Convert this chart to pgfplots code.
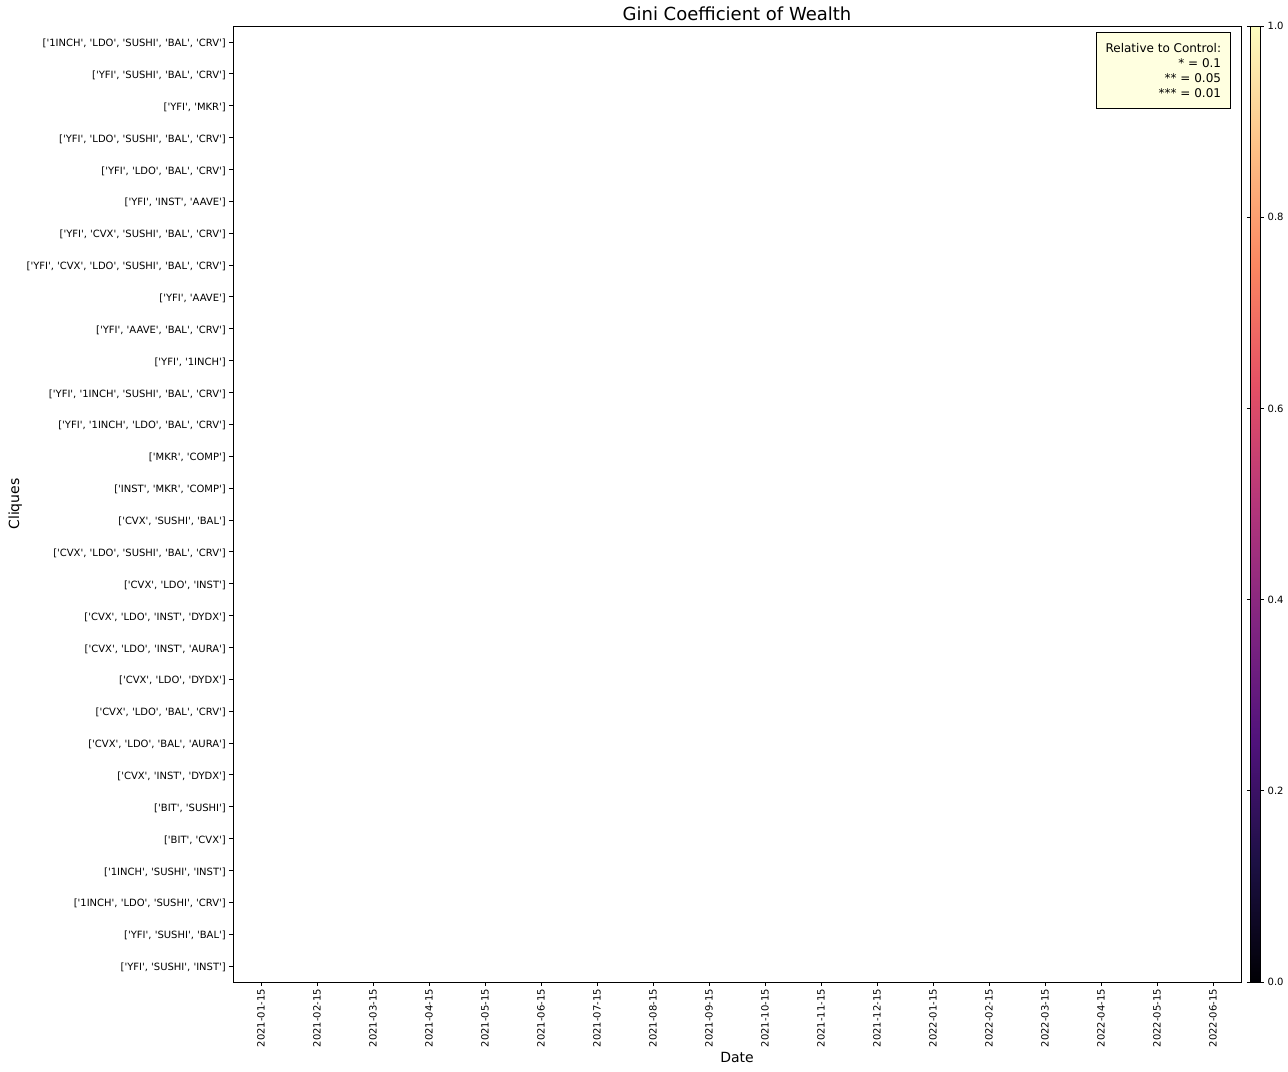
\documentclass[border=0pt]{standalone}
\usepackage{fontspec}
\setmainfont{DejaVu Sans}
\usepackage{pgfplots}
\pgfplotsset{compat=1.18}
\definecolor{lightyellow}{RGB}{255,255,224}
\pgfplotsset{colormap={magma}{
rgb255(0)=(0,0,4)
rgb255(1)=(28,16,68)
rgb255(2)=(79,18,123)
rgb255(3)=(129,37,129)
rgb255(4)=(181,54,122)
rgb255(5)=(229,80,100)
rgb255(6)=(251,135,97)
rgb255(7)=(254,194,135)
rgb255(8)=(252,253,191)}}
\newcommand{\q}{\textquotesingle}
\newcommand{\tf}{\fontsize{10bp}{12bp}\selectfont}
\begin{document}
\begin{tikzpicture}
\useasboundingbox (0,0) rectangle (1288bp,1072bp);
\begin{axis}[
  name=main,
  at={(233bp,90bp)}, anchor=south west,
  scale only axis, width=1008bp, height=956bp,
  xmin=-0.5, xmax=17.5, ymin=-0.5, ymax=29.5,
  y dir=reverse,
  axis line style={line width=0.8bp},
  tick style={line width=0.8bp, black},
  tick align=outside, major tick length=3.5bp,
  xtick pos=bottom, ytick pos=left,
  xtick={0,...,17},
  ytick={0,...,29},
  xticklabels={2021-01-15,2021-02-15,2021-03-15,2021-04-15,2021-05-15,2021-06-15,2021-07-15,2021-08-15,2021-09-15,2021-10-15,2021-11-15,2021-12-15,2022-01-15,2022-02-15,2022-03-15,2022-04-15,2022-05-15,2022-06-15},
  yticklabels={
   {[{\q}1INCH{\q}, {\q}LDO{\q}, {\q}SUSHI{\q}, {\q}BAL{\q}, {\q}CRV{\q}]},
   {[{\q}YFI{\q}, {\q}SUSHI{\q}, {\q}BAL{\q}, {\q}CRV{\q}]},
   {[{\q}YFI{\q}, {\q}MKR{\q}]},
   {[{\q}YFI{\q}, {\q}LDO{\q}, {\q}SUSHI{\q}, {\q}BAL{\q}, {\q}CRV{\q}]},
   {[{\q}YFI{\q}, {\q}LDO{\q}, {\q}BAL{\q}, {\q}CRV{\q}]},
   {[{\q}YFI{\q}, {\q}INST{\q}, {\q}AAVE{\q}]},
   {[{\q}YFI{\q}, {\q}CVX{\q}, {\q}SUSHI{\q}, {\q}BAL{\q}, {\q}CRV{\q}]},
   {[{\q}YFI{\q}, {\q}CVX{\q}, {\q}LDO{\q}, {\q}SUSHI{\q}, {\q}BAL{\q}, {\q}CRV{\q}]},
   {[{\q}YFI{\q}, {\q}AAVE{\q}]},
   {[{\q}YFI{\q}, {\q}AAVE{\q}, {\q}BAL{\q}, {\q}CRV{\q}]},
   {[{\q}YFI{\q}, {\q}1INCH{\q}]},
   {[{\q}YFI{\q}, {\q}1INCH{\q}, {\q}SUSHI{\q}, {\q}BAL{\q}, {\q}CRV{\q}]},
   {[{\q}YFI{\q}, {\q}1INCH{\q}, {\q}LDO{\q}, {\q}BAL{\q}, {\q}CRV{\q}]},
   {[{\q}MKR{\q}, {\q}COMP{\q}]},
   {[{\q}INST{\q}, {\q}MKR{\q}, {\q}COMP{\q}]},
   {[{\q}CVX{\q}, {\q}SUSHI{\q}, {\q}BAL{\q}]},
   {[{\q}CVX{\q}, {\q}LDO{\q}, {\q}SUSHI{\q}, {\q}BAL{\q}, {\q}CRV{\q}]},
   {[{\q}CVX{\q}, {\q}LDO{\q}, {\q}INST{\q}]},
   {[{\q}CVX{\q}, {\q}LDO{\q}, {\q}INST{\q}, {\q}DYDX{\q}]},
   {[{\q}CVX{\q}, {\q}LDO{\q}, {\q}INST{\q}, {\q}AURA{\q}]},
   {[{\q}CVX{\q}, {\q}LDO{\q}, {\q}DYDX{\q}]},
   {[{\q}CVX{\q}, {\q}LDO{\q}, {\q}BAL{\q}, {\q}CRV{\q}]},
   {[{\q}CVX{\q}, {\q}LDO{\q}, {\q}BAL{\q}, {\q}AURA{\q}]},
   {[{\q}CVX{\q}, {\q}INST{\q}, {\q}DYDX{\q}]},
   {[{\q}BIT{\q}, {\q}SUSHI{\q}]},
   {[{\q}BIT{\q}, {\q}CVX{\q}]},
   {[{\q}1INCH{\q}, {\q}SUSHI{\q}, {\q}INST{\q}]},
   {[{\q}1INCH{\q}, {\q}LDO{\q}, {\q}SUSHI{\q}, {\q}CRV{\q}]},
   {[{\q}YFI{\q}, {\q}SUSHI{\q}, {\q}BAL{\q}]},
   {[{\q}YFI{\q}, {\q}SUSHI{\q}, {\q}INST{\q}]}},
  xticklabel style={font=\tf, rotate=90, anchor=east, inner sep=0pt, xshift=-3.5bp},
  yticklabel style={font=\tf, anchor=east, inner sep=0pt, xshift=-3.5bp, yshift=-1.5bp},
  xlabel={Date},
  xlabel style={font=\fontsize{14bp}{17bp}\selectfont, at={(axis description cs:0.5,-0.0847)}, anchor=base, inner sep=0pt},
  ylabel={Cliques},
  ylabel style={font=\fontsize{14bp}{17bp}\selectfont, at={(axis description cs:-0.2123,0.5)}, anchor=base, inner sep=0pt},
  colormap name=magma,
  point meta min=0, point meta max=1,
  colorbar,
  colorbar style={
    at={(parent axis.north east)}, anchor=north west, xshift=1bp,
    scale only axis, width=10bp, height=956bp,
    ytick={0,0.2,0.4,0.6,0.8,1.0},
    tick align=outside, major tick length=3.5bp,
    axis line style={line width=0.8bp},
    tick style={line width=0.8bp, black},
    yticklabel style={font=\tf, anchor=west, inner sep=0pt, xshift=3.5bp,
      /pgf/number format/.cd, fixed, fixed zerofill, precision=1, assume math mode=true},
  },
]
\end{axis}
\node[anchor=base, inner sep=0pt, font=\fontsize{18bp}{21bp}\selectfont]
  at (main.north) [yshift=5bp] {Gini Coefficient of Wealth};
\node[anchor=north east, draw=black, line width=0.8bp, fill=lightyellow, align=right,
  font=\fontsize{12bp}{15bp}\selectfont, inner xsep=9.5bp, inner ysep=11bp]
  at (main.north east) [xshift=-10bp, yshift=-6bp]
  {Relative to Control:\\* = 0.1\\** = 0.05\\*** = 0.01};
\end{tikzpicture}
\end{document}
